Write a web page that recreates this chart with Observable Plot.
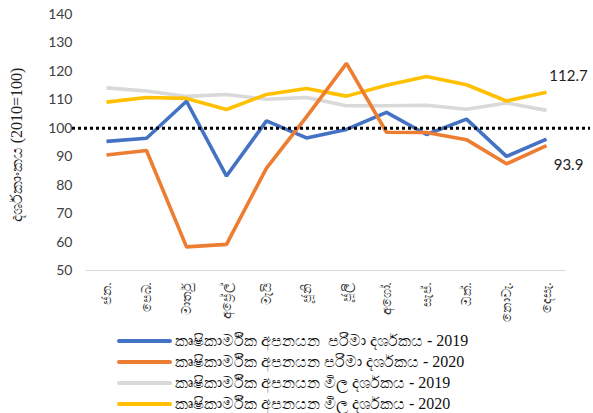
<!DOCTYPE html>
<html><head><meta charset="utf-8">
<script src="https://cdn.jsdelivr.net/npm/d3@7"></script>
<script src="https://cdn.jsdelivr.net/npm/@observablehq/plot@0.6"></script>
<style>
body{margin:0;background:#fff;width:593px;height:413px;position:relative;overflow:hidden;font-family:Lato,"Noto Sans",sans-serif}
#ylab{position:absolute;left:17px;top:145px;transform:translate(-50%,-50%) rotate(-90deg);white-space:nowrap;font-family:"Liberation Serif",serif;font-size:16px;color:#222}
#legend{position:absolute;left:117px;top:330px}
.row{display:flex;align-items:center;height:21px}
.sw{width:55px;height:4px;border-radius:2px;margin-right:3px}
.lt{font-family:"Liberation Serif","Noto Sans",serif;font-size:16px;color:#111;white-space:pre}
</style></head><body>
<div id="chart"></div>
<div id="ylab">දර්ශකාංකය (2010=100)</div>
<div id="legend"></div>
<script>
const months = ["ජන.","පෙබ.","මාර්තු","අප්‍රේල්","මැයි","ජූනි","ජූලි","අගෝ.","සැප්.","ඔක්.","නොවැ.","දෙසැ."];
const volume2019 = [95.4, 96.5, 109.5, 83.2, 102.6, 96.6, 99.6, 105.6, 97.8, 103.2, 90.1, 96.2];
const volume2020 = [90.6, 92.2, 58.3, 59.2, 86.0, 104.0, 122.8, 98.6, 98.5, 96.0, 87.5, 93.9];
const value2019 = [114.2, 113.1, 111.2, 111.9, 110.2, 110.8, 107.9, 107.9, 108.1, 106.7, 108.9, 106.3];
const value2020 = [109.2, 110.8, 110.5, 106.6, 111.9, 114.0, 111.3, 115.1, 118.2, 115.3, 109.6, 112.7];
const seriesNames = ["කෘෂිකාර්මික අපනයන  පරිමා දර්ශකය - 2019","කෘෂිකාර්මික අපනයන පරිමා දර්ශකය - 2020","කෘෂිකාර්මික අපනයන මිල දර්ශකය - 2019","කෘෂිකාර්මික අපනයන මිල දර්ශකය - 2020"];
const colors = ["#4472C4","#ED7D31","#D9D9D9","#FFC000"];
const yTicks = [50,60,70,80,90,100,110,120,130,140];
const baseline = 100;
const labelHigh = [{v:112.7, t:"112.7"}];
const labelLow = [{v:93.9, t:"93.9"}];

const all = [volume2019, volume2020, value2019, value2020];
const rows = [];
all.forEach((arr, s) => arr.forEach((v, i) => rows.push({s, m: months[i], v})));
const drawOrder = [2, 3, 0, 1];
const lineMarks = drawOrder.map(s => Plot.line(rows.filter(d => d.s === s), {x: "m", y: "v", stroke: colors[s], strokeWidth: 3.6, strokeLinejoin: "miter", strokeLinecap: "butt"}));
const lastMonth = months[months.length - 1];

const chart = Plot.plot({
  width: 593, height: 322,
  marginLeft: 86, marginRight: 27, marginTop: 14, marginBottom: 52,
  style: {fontFamily: "Lato, 'Noto Sans', sans-serif", background: "white"},
  x: {type: "point", domain: months, padding: 0.5, label: null, axis: null},
  y: {domain: [50, 140], label: null, axis: null},
  marks: [
    Plot.ruleY([50], {stroke: "#d9d9d9", strokeWidth: 1.2}),
    Plot.axisY(yTicks, {tickSize: 0, tickPadding: 14, fontSize: 14, fill: "#404040", label: null}),
    Plot.axisX(months, {tickSize: 0, tickPadding: 12, tickRotate: -90, fontSize: 12.5, fill: "#333", label: null}),
    ...lineMarks,
    Plot.ruleY([baseline], {stroke: "black", strokeWidth: 3, strokeDasharray: "3 3", insetLeft: -14, insetRight: -24}),
    Plot.text(labelHigh, {x: () => lastMonth, y: "v", text: "t", dx: 22, dy: -16, fontSize: 15, fill: "#222"}),
    Plot.text(labelLow, {x: () => lastMonth, y: "v", text: "t", dx: 22, dy: 20, fontSize: 15, fill: "#222"})
  ]
});
document.getElementById("chart").append(chart);

const lg = document.getElementById("legend");
seriesNames.forEach((n, s) => {
  const r = document.createElement("div"); r.className = "row";
  const sw = document.createElement("div"); sw.className = "sw"; sw.style.background = colors[s];
  const t = document.createElement("span"); t.className = "lt"; t.textContent = n;
  r.append(sw, t); lg.append(r);
});
</script>
</body></html>
